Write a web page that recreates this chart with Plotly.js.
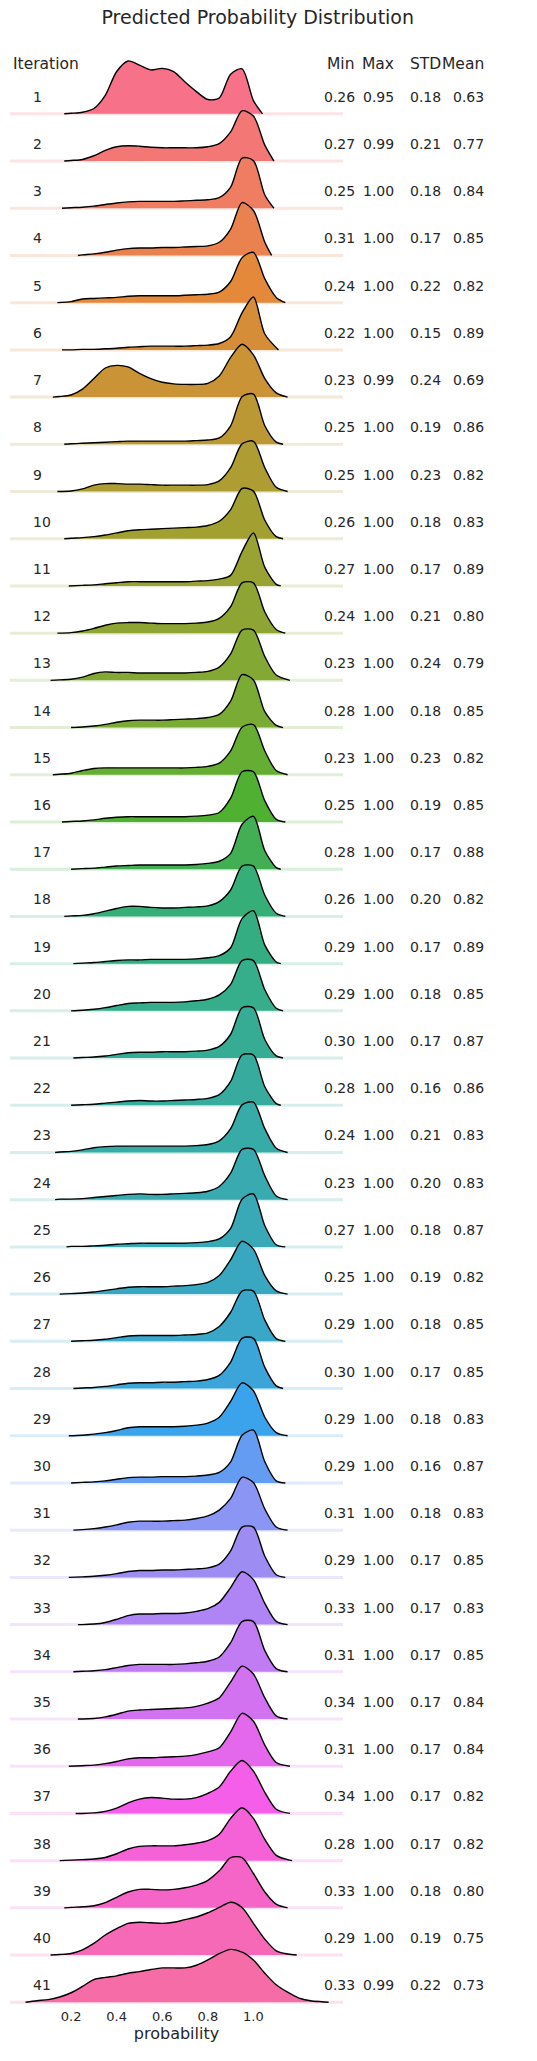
<!DOCTYPE html>
<html>
<head>
<meta charset="utf-8">
<script src="https://cdn.plot.ly/plotly-3.0.1.min.js"></script>
<style>body{margin:0;background:#fff}#plot{width:537px;height:2061px}</style>
</head>
<body>
<div id="plot"></div>
<script>
// density grid: probability 0.00 .. 1.35 step 0.05 (28 points)
const grid = [0,0.05,0.1,0.15,0.2,0.25,0.3,0.35,0.4,0.45,0.5,0.55,0.6,0.65,0.7,0.75,0.8,0.85,0.9,0.95,1.0,1.05,1.1,1.15,1.2,1.25,1.3,1.35];

// relative density heights, one row per iteration
const dens = [
 [0,0,0,0,0.01,0.03,0.1,0.35,0.8,1.0,0.92,0.83,0.86,0.8,0.6,0.42,0.27,0.3,0.75,0.85,0.25,0,0,0,0,0,0,0],
 [0,0,0,0,0.01,0.03,0.1,0.2,0.27,0.29,0.28,0.26,0.25,0.25,0.25,0.25,0.27,0.33,0.55,0.95,0.85,0.3,0.02,0,0,0,0,0],
 [0,0,0,0,0.01,0.02,0.04,0.07,0.1,0.12,0.13,0.13,0.13,0.13,0.14,0.15,0.16,0.2,0.4,0.95,0.9,0.25,0.02,0,0,0,0,0],
 [0,0,0,0,0,0.01,0.03,0.06,0.1,0.13,0.14,0.14,0.15,0.15,0.16,0.17,0.18,0.25,0.5,1.0,0.85,0.25,0.02,0,0,0,0,0],
 [0,0,0,0,0.02,0.07,0.08,0.09,0.1,0.12,0.13,0.13,0.13,0.13,0.14,0.15,0.16,0.2,0.4,0.85,0.95,0.45,0.1,0.01,0,0,0,0],
 [0,0,0,0,0,0.01,0.01,0.02,0.03,0.05,0.06,0.07,0.07,0.07,0.07,0.08,0.09,0.12,0.25,0.7,1.0,0.3,0.02,0,0,0,0,0],
 [0,0,0,0.01,0.04,0.15,0.35,0.55,0.6,0.57,0.45,0.35,0.28,0.25,0.24,0.24,0.26,0.4,0.75,1.0,0.8,0.35,0.08,0.01,0,0,0,0],
 [0,0,0,0,0.01,0.02,0.03,0.04,0.05,0.06,0.06,0.06,0.06,0.06,0.06,0.07,0.08,0.12,0.35,0.9,0.95,0.35,0.04,0,0,0,0,0],
 [0,0,0,0,0.01,0.05,0.12,0.15,0.15,0.14,0.14,0.13,0.12,0.12,0.12,0.12,0.13,0.2,0.45,0.9,0.95,0.45,0.08,0,0,0,0,0],
 [0,0,0,0,0.01,0.02,0.04,0.07,0.11,0.15,0.17,0.18,0.19,0.2,0.21,0.22,0.25,0.33,0.55,0.95,0.9,0.35,0.04,0,0,0,0,0],
 [0,0,0,0,0,0.01,0.02,0.04,0.06,0.08,0.08,0.08,0.08,0.08,0.08,0.09,0.1,0.13,0.2,0.65,1.0,0.35,0.03,0,0,0,0,0],
 [0,0,0,0,0.01,0.04,0.09,0.15,0.19,0.2,0.2,0.19,0.18,0.18,0.18,0.19,0.21,0.28,0.5,0.95,0.95,0.4,0.07,0,0,0,0,0],
 [0,0,0,0.01,0.02,0.06,0.13,0.16,0.15,0.15,0.14,0.14,0.14,0.14,0.14,0.15,0.17,0.25,0.5,0.95,0.95,0.45,0.1,0.01,0,0,0,0],
 [0,0,0,0,0,0.01,0.03,0.06,0.1,0.13,0.14,0.14,0.14,0.15,0.16,0.17,0.19,0.25,0.5,1.0,0.9,0.3,0.04,0,0,0,0,0],
 [0,0,0,0.01,0.03,0.08,0.12,0.13,0.13,0.13,0.13,0.13,0.13,0.13,0.13,0.14,0.16,0.22,0.45,0.9,0.95,0.45,0.08,0.01,0,0,0,0],
 [0,0,0,0,0.01,0.02,0.04,0.07,0.09,0.1,0.1,0.1,0.1,0.1,0.1,0.11,0.13,0.18,0.45,0.95,0.95,0.4,0.05,0,0,0,0,0],
 [0,0,0,0,0,0.01,0.02,0.04,0.06,0.07,0.08,0.08,0.08,0.08,0.08,0.09,0.11,0.15,0.3,0.85,1.0,0.35,0.03,0,0,0,0,0],
 [0,0,0,0,0.01,0.02,0.05,0.1,0.15,0.19,0.19,0.17,0.16,0.16,0.17,0.18,0.2,0.28,0.5,0.95,0.95,0.4,0.06,0,0,0,0,0],
 [0,0,0,0,0,0.01,0.02,0.04,0.06,0.07,0.07,0.08,0.08,0.08,0.08,0.09,0.11,0.15,0.3,0.85,1.0,0.35,0.03,0,0,0,0,0],
 [0,0,0,0,0,0.01,0.03,0.06,0.1,0.14,0.15,0.16,0.16,0.16,0.17,0.19,0.22,0.3,0.5,0.95,0.95,0.4,0.05,0,0,0,0,0],
 [0,0,0,0,0,0.01,0.02,0.04,0.07,0.1,0.11,0.11,0.12,0.12,0.12,0.13,0.15,0.22,0.45,0.95,0.95,0.35,0.04,0,0,0,0,0],
 [0,0,0,0,0,0.01,0.02,0.04,0.06,0.08,0.09,0.08,0.08,0.09,0.1,0.11,0.13,0.2,0.45,0.95,0.95,0.35,0.03,0,0,0,0,0],
 [0,0,0,0.01,0.02,0.05,0.09,0.11,0.12,0.12,0.12,0.12,0.12,0.12,0.12,0.13,0.15,0.22,0.45,0.9,0.95,0.45,0.08,0.01,0,0,0,0],
 [0,0,0,0.01,0.01,0.02,0.04,0.06,0.08,0.1,0.11,0.1,0.1,0.11,0.12,0.13,0.16,0.25,0.5,0.95,0.95,0.45,0.07,0.01,0,0,0,0],
 [0,0,0,0,0.01,0.01,0.02,0.03,0.05,0.06,0.07,0.07,0.07,0.07,0.07,0.08,0.1,0.15,0.35,0.9,1.0,0.4,0.04,0,0,0,0,0],
 [0,0,0,0,0.01,0.02,0.04,0.07,0.1,0.13,0.14,0.14,0.14,0.15,0.16,0.18,0.22,0.35,0.65,1.0,0.85,0.35,0.06,0.01,0,0,0,0],
 [0,0,0,0,0,0.01,0.02,0.04,0.07,0.1,0.11,0.11,0.11,0.11,0.12,0.13,0.16,0.28,0.55,0.95,0.95,0.4,0.05,0,0,0,0,0],
 [0,0,0,0,0,0.01,0.02,0.04,0.07,0.1,0.11,0.11,0.12,0.12,0.13,0.14,0.17,0.25,0.5,0.95,0.95,0.4,0.05,0,0,0,0,0],
 [0,0,0,0,0,0.01,0.03,0.06,0.1,0.15,0.17,0.17,0.17,0.17,0.18,0.2,0.24,0.35,0.65,1.0,0.85,0.35,0.06,0.01,0,0,0,0],
 [0,0,0,0,0,0.01,0.02,0.04,0.07,0.1,0.11,0.11,0.12,0.12,0.12,0.13,0.15,0.2,0.4,0.9,1.0,0.4,0.04,0,0,0,0,0],
 [0,0,0,0,0,0.01,0.03,0.06,0.1,0.15,0.17,0.17,0.17,0.18,0.19,0.22,0.27,0.38,0.6,1.0,0.9,0.4,0.06,0.01,0,0,0,0],
 [0,0,0,0,0,0.01,0.02,0.04,0.07,0.11,0.13,0.13,0.14,0.14,0.15,0.16,0.18,0.25,0.5,0.95,0.95,0.4,0.05,0,0,0,0,0],
 [0,0,0,0,0,0,0.01,0.04,0.1,0.17,0.2,0.2,0.21,0.21,0.22,0.25,0.3,0.42,0.7,1.0,0.85,0.4,0.06,0.01,0,0,0,0],
 [0,0,0,0,0,0.01,0.02,0.04,0.08,0.12,0.14,0.14,0.14,0.14,0.15,0.17,0.2,0.28,0.55,0.95,0.95,0.4,0.06,0.01,0,0,0,0],
 [0,0,0,0,0,0,0.01,0.04,0.09,0.15,0.17,0.18,0.19,0.2,0.21,0.24,0.3,0.4,0.7,1.0,0.85,0.4,0.06,0.01,0,0,0,0],
 [0,0,0,0,0,0.01,0.02,0.05,0.09,0.14,0.16,0.16,0.17,0.18,0.19,0.22,0.27,0.35,0.65,1.0,0.85,0.4,0.07,0.01,0,0,0,0],
 [0,0,0,0,0,0,0.01,0.04,0.1,0.2,0.27,0.3,0.29,0.27,0.27,0.3,0.38,0.5,0.8,1.0,0.8,0.4,0.08,0.01,0,0,0,0],
 [0,0,0,0,0.01,0.02,0.03,0.06,0.13,0.22,0.27,0.28,0.28,0.28,0.3,0.33,0.38,0.5,0.8,1.0,0.8,0.4,0.1,0.02,0,0,0,0],
 [0,0,0,0,0.01,0.02,0.04,0.1,0.2,0.3,0.35,0.35,0.34,0.35,0.38,0.43,0.52,0.7,0.95,0.95,0.65,0.3,0.07,0.01,0,0,0,0],
 [0,0,0,0.01,0.03,0.1,0.22,0.38,0.5,0.6,0.62,0.61,0.6,0.62,0.67,0.72,0.8,0.9,1.0,0.9,0.6,0.3,0.08,0.02,0,0,0,0],
 [0.01,0.03,0.05,0.1,0.18,0.3,0.43,0.47,0.5,0.55,0.58,0.62,0.65,0.65,0.65,0.7,0.8,0.92,1.0,0.95,0.8,0.55,0.33,0.19,0.08,0.03,0.01,0]
];
// where each curve starts / ends
const lo = [0.17,0.17,0.16,0.23,0.14,0.16,0.12,0.17,0.14,0.17,0.19,0.14,0.11,0.2,0.12,0.16,0.2,0.17,0.21,0.2,0.21,0.2,0.13,0.13,0.18,0.15,0.2,0.21,0.19,0.2,0.21,0.19,0.23,0.21,0.23,0.19,0.22,0.15,0.17,0.11,0.0];
const hi = [1.04,1.09,1.09,1.08,1.14,1.11,1.15,1.13,1.15,1.13,1.12,1.14,1.16,1.13,1.15,1.14,1.12,1.14,1.12,1.13,1.13,1.12,1.15,1.15,1.14,1.15,1.14,1.13,1.15,1.14,1.15,1.14,1.15,1.15,1.15,1.16,1.16,1.17,1.15,1.19,1.33];

const minV = ['0.26','0.27','0.25','0.31','0.24','0.22','0.23','0.25','0.25','0.26','0.27','0.24','0.23','0.28','0.23','0.25','0.28','0.26','0.29','0.29','0.30','0.28','0.24','0.23','0.27','0.25','0.29','0.30','0.29','0.29','0.31','0.29','0.33','0.31','0.34','0.31','0.34','0.28','0.33','0.29','0.33'];
const maxV = ['0.95','0.99','1.00','1.00','1.00','1.00','0.99','1.00','1.00','1.00','1.00','1.00','1.00','1.00','1.00','1.00','1.00','1.00','1.00','1.00','1.00','1.00','1.00','1.00','1.00','1.00','1.00','1.00','1.00','1.00','1.00','1.00','1.00','1.00','1.00','1.00','1.00','1.00','1.00','1.00','0.99'];
const stdV = ['0.18','0.21','0.18','0.17','0.22','0.15','0.24','0.19','0.23','0.18','0.17','0.21','0.24','0.18','0.23','0.19','0.17','0.20','0.17','0.18','0.17','0.16','0.21','0.20','0.18','0.19','0.18','0.17','0.18','0.16','0.18','0.17','0.17','0.17','0.17','0.17','0.17','0.17','0.18','0.19','0.22'];
const meanV = ['0.63','0.77','0.84','0.85','0.82','0.89','0.69','0.86','0.82','0.83','0.89','0.80','0.79','0.85','0.82','0.85','0.88','0.82','0.89','0.85','0.87','0.86','0.83','0.83','0.87','0.82','0.85','0.85','0.83','0.87','0.83','0.85','0.83','0.85','0.84','0.84','0.82','0.82','0.80','0.75','0.73'];

// colour stops (row index, colour) for the husl-like palette
const anchors = [[0,'#f77189'],[4,'#e4883a'],[8,'#ad9d32'],[13,'#7aab34'],[15,'#4fb032'],[17,'#35ae78'],[22,'#37aba8'],[26,'#3aa6c8'],[28,'#3ba3ec'],[30,'#8b95f3'],[33,'#c17cf4'],[36,'#f45ee8'],[40,'#f66ca6']];
const hex2rgb = h => [1,3,5].map(i=>parseInt(h.substr(i,2),16));
function rowColor(i){
  let k = 0;
  while (k < anchors.length-2 && anchors[k+1][0] <= i) k++;
  let [r0,c0] = anchors[k], [r1,c1] = anchors[k+1];
  let f = Math.min(1,(i-r0)/(r1-r0));
  let a = hex2rgb(c0), b = hex2rgb(c1);
  return a.map((v,j)=>Math.round(v+(b[j]-v)*f));
}

const N = dens.length, SCALE = 1.12;
let traces = [], ann = [];
const fnt = {family:'DejaVu Sans', size:14, color:'#262626'};

for (let i=0; i<N; i++){
  let base = N-1-i;
  let c = rowColor(i);
  let col = 'rgb('+c.join(',')+')';
  let light = 'rgb('+c.map(v=>Math.round(v+(255-v)*0.8)).join(',')+')';
  traces.push({x:[-0.068,1.393], y:[base,base], mode:'lines', line:{color:light,width:3}, hoverinfo:'skip'});
  let xs=[lo[i]], ys=[base];
  grid.forEach((g,j)=>{ if(g>lo[i]+0.01 && g<hi[i]-0.01){ xs.push(g); ys.push(base+dens[i][j]*SCALE); } });
  xs.push(hi[i]); ys.push(base);
  // invisible floor, then curve filled down to it
  traces.push({x:[lo[i],hi[i]], y:[base,base], mode:'lines', line:{width:0}, hoverinfo:'skip'});
  traces.push({x:xs, y:ys, mode:'lines', fill:'tonexty', fillcolor:col,
    line:{color:'#000',width:1.4, shape:'spline', smoothing:0.8}, hoverinfo:'skip'});

  let yl = base+0.36;
  ann.push({xref:'paper', yref:'y', x:0.063, y:yl, text:String(i+1), showarrow:false, font:fnt});
  [[1.042,minV],[1.159,maxV],[1.300,stdV],[1.429,meanV]].forEach(([px,arr])=>{
    ann.push({xref:'paper', yref:'y', x:px, y:yl, text:arr[i], showarrow:false, font:fnt});
  });
}
const hf = {family:'DejaVu Sans', size:15.5, color:'#262626'};
ann.push({xref:'paper', yref:'y', x:0.004, xanchor:'left', y:N-1+1.06, text:'Iteration', showarrow:false, font:hf});
[['Min',1.042],['Max',1.159],['STD',1.300],['Mean',1.429]].forEach(([t,px])=>{
  ann.push({xref:'paper', yref:'y', x:px, y:N-1+1.06, text:t, showarrow:false, font:hf});
});

const layout = {
  width:537, height:2061, showlegend:false,
  margin:{l:10, r:194, t:43, b:54},
  paper_bgcolor:'#fff', plot_bgcolor:'#fff',
  title:{text:'Predicted Probability Distribution', x:0.48, xanchor:'center', y:0.9915, yanchor:'middle',
    font:{family:'DejaVu Sans', size:19, color:'#262626'}},
  xaxis:{range:[-0.068,1.393], tickvals:[0.2,0.4,0.6,0.8,1.0], ticktext:['0.2','0.4','0.6','0.8','1.0'],
    showgrid:false, zeroline:false, showline:false, ticks:'', tickfont:{family:'DejaVu Sans', size:13, color:'#262626'},
    title:{text:'probability', standoff:4, font:{family:'DejaVu Sans', size:16, color:'#262626'}}},
  yaxis:{range:[-0.1,41.5], showgrid:false, zeroline:false, showticklabels:false, ticks:''},
  annotations:ann
};
Plotly.newPlot('plot', traces, layout, {displayModeBar:false, staticPlot:true});
</script>
</body>
</html>
